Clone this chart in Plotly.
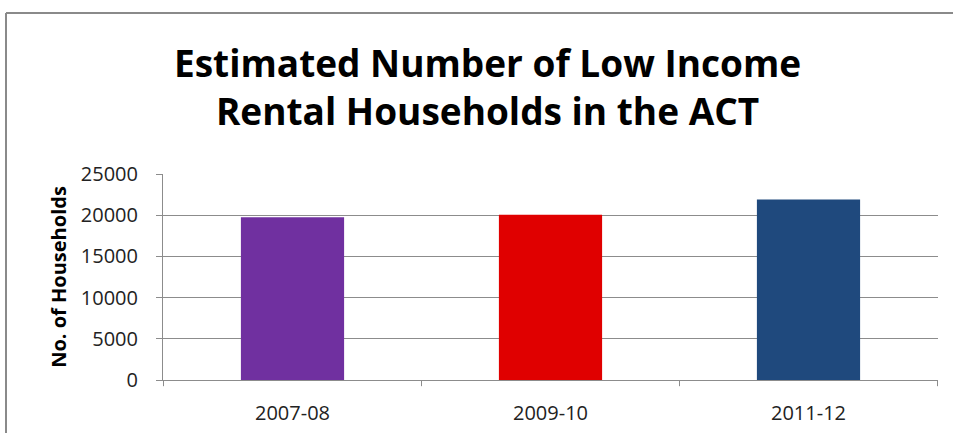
import plotly.graph_objects as go

categories = ["2007-08", "2009-10", "2011-12"]
values = [19750, 20050, 21900]
colors = ["#7030A0", "#E00000", "#1F497D"]
y_ticks = [0, 5000, 10000, 15000, 20000, 25000]
title_text = "Estimated Number of Low Income<br>Rental Households in the ACT"
y_title = "No. of Households"

L, R, T, B = 163, 15, 174, 53
W, H = 953, 433
pw, ph = W - L - R, H - T - B

fig = go.Figure(go.Bar(x=categories, y=values, marker=dict(color=colors, line=dict(width=0)), width=0.40))

def px_x(x):
    return (x - L) / pw

def px_y(y):
    return (H - B - y) / ph

fig.update_layout(
    width=W, height=H,
    margin=dict(l=L, r=R, t=T, b=B),
    paper_bgcolor="white", plot_bgcolor="white",
    font=dict(family="Open Sans", color="#222"),
    showlegend=False,
    annotations=[dict(text="<b>" + title_text + "</b>", x=px_x(487), y=px_y(86), xref="paper", yref="paper",
                      showarrow=False, xanchor="center", yanchor="middle",
                      font=dict(size=37, color="#000", family="Open Sans"))],
    shapes=[dict(type="line", xref="paper", yref="paper", x0=px_x(6), x1=px_x(960), y0=px_y(13), y1=px_y(13),
                 line=dict(color="#8a8a8a", width=2)),
            dict(type="line", xref="paper", yref="paper", x0=px_x(6), x1=px_x(6), y0=px_y(13), y1=px_y(440),
                 line=dict(color="#8a8a8a", width=2))],
)
fig.update_yaxes(range=[0, 25000], tickvals=y_ticks, tickformat="d", showgrid=True, gridcolor="#8c8c8c", gridwidth=1,
                 showline=True, linecolor="#8c8c8c", ticks="outside", ticklen=6, tickcolor="#8c8c8c",
                 ticklabelstandoff=14, automargin=False,
                 tickfont=dict(size=20, color="#222"), zeroline=False,
                 title=dict(text="<b>" + y_title + "</b>", font=dict(size=20, color="#000"), standoff=8))
fig.update_xaxes(type="category", showline=True, linecolor="#8c8c8c", ticks="", ticklabelstandoff=15,
                 automargin=False, tickfont=dict(size=20, color="#222"))
for i in range(4):
    fig.add_shape(type="line", xref="x", yref="paper", x0=i - 0.5, x1=i - 0.5, y0=0, y1=-0.03,
                  line=dict(color="#8c8c8c", width=1))
fig.write_html("out.html")
